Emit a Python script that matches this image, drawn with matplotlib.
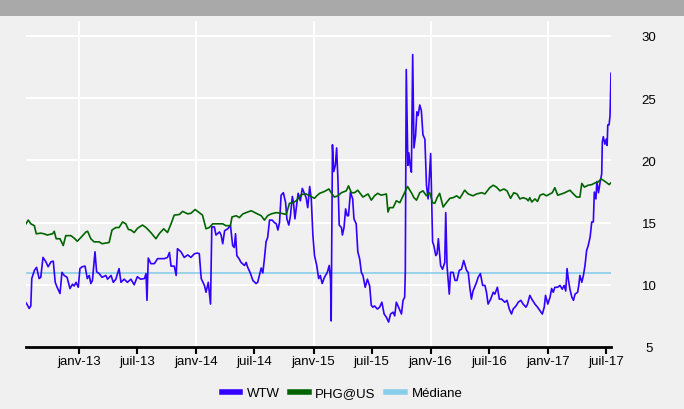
import pandas as pd
import numpy as np
import matplotlib.pyplot as plt
from matplotlib.patches import Rectangle

plt.rcParams['font.family'] = ['Liberation Sans', 'DejaVu Sans']

# WTW
wtw_dates = ['2012-07-19', '2012-07-25', '2012-07-29', '2012-08-03', '2012-08-06', '2012-08-14', '2012-08-21',
             '2012-08-29', '2012-09-03', '2012-09-10', '2012-09-19', '2012-09-26', '2012-10-05', '2012-10-12',
             '2012-10-18', '2012-10-24', '2012-11-02', '2012-11-08', '2012-11-15', '2012-11-24', '2012-12-03',
             '2012-12-11', '2012-12-16', '2012-12-22', '2012-12-29', '2013-01-03', '2013-01-10', '2013-01-19',
             '2013-01-26', '2013-02-01', '2013-02-06', '2013-02-11', '2013-02-19', '2013-02-24', '2013-03-04',
             '2013-03-13', '2013-03-25', '2013-03-30', '2013-04-10', '2013-04-17', '2013-04-25', '2013-05-05',
             '2013-05-11', '2013-05-21', '2013-05-31', '2013-06-11', '2013-06-21', '2013-07-01', '2013-07-11',
             '2013-07-23', '2013-07-28', '2013-07-31', '2013-08-04', '2013-08-12', '2013-08-23', '2013-09-02',
             '2013-09-13', '2013-09-23', '2013-10-03', '2013-10-09', '2013-10-14', '2013-10-24', '2013-10-30',
             '2013-11-03', '2013-11-14', '2013-11-24', '2013-12-05', '2013-12-15', '2013-12-26', '2014-01-05',
             '2014-01-10', '2014-01-16', '2014-01-26', '2014-01-31', '2014-02-07', '2014-02-14', '2014-02-18',
             '2014-02-26', '2014-03-03', '2014-03-14', '2014-03-19', '2014-03-24', '2014-03-30', '2014-04-09',
             '2014-04-17', '2014-04-24', '2014-04-29', '2014-05-03', '2014-05-07', '2014-05-15', '2014-05-20',
             '2014-05-31', '2014-06-05', '2014-06-10', '2014-06-18', '2014-06-26', '2014-07-06', '2014-07-11',
             '2014-07-22', '2014-07-27', '2014-08-01', '2014-08-06', '2014-08-11', '2014-08-17', '2014-08-25',
             '2014-09-01', '2014-09-07', '2014-09-12', '2014-09-17', '2014-09-22', '2014-09-29', '2014-10-06',
             '2014-10-10', '2014-10-16', '2014-10-21', '2014-10-27', '2014-10-31', '2014-11-04', '2014-11-10',
             '2014-11-14', '2014-11-21', '2014-11-27', '2014-12-04', '2014-12-09', '2014-12-14', '2014-12-20',
             '2014-12-25', '2014-12-30', '2015-01-04', '2015-01-11', '2015-01-17', '2015-01-22', '2015-01-28',
             '2015-02-04', '2015-02-13', '2015-02-19', '2015-02-23', '2015-02-25', '2015-03-01', '2015-03-05',
             '2015-03-10', '2015-03-14', '2015-03-18', '2015-03-22', '2015-03-29', '2015-04-01', '2015-04-06',
             '2015-04-11', '2015-04-16', '2015-04-20', '2015-04-26', '2015-05-03', '2015-05-07', '2015-05-14',
             '2015-05-19', '2015-05-25', '2015-05-30', '2015-06-04', '2015-06-11', '2015-06-18', '2015-06-25',
             '2015-06-30', '2015-07-05', '2015-07-10', '2015-07-19', '2015-07-26', '2015-08-02', '2015-08-09',
             '2015-08-16', '2015-08-23', '2015-08-29', '2015-09-06', '2015-09-11', '2015-09-16', '2015-09-23',
             '2015-10-02', '2015-10-07', '2015-10-12', '2015-10-14', '2015-10-17', '2015-10-22', '2015-10-25',
             '2015-10-29', '2015-11-02', '2015-11-06', '2015-11-10', '2015-11-15', '2015-11-19', '2015-11-23',
             '2015-11-28', '2015-12-03', '2015-12-08', '2015-12-14', '2015-12-19', '2015-12-24', '2016-01-01',
             '2016-01-07', '2016-01-11', '2016-01-17', '2016-01-21', '2016-01-25', '2016-02-01', '2016-02-07',
             '2016-02-14', '2016-02-17', '2016-02-21', '2016-02-28', '2016-03-03', '2016-03-11', '2016-03-17',
             '2016-03-23', '2016-03-30', '2016-04-06', '2016-04-13', '2016-04-22', '2016-04-27', '2016-05-02',
             '2016-05-07', '2016-05-12', '2016-05-23', '2016-05-28', '2016-06-04', '2016-06-11', '2016-06-18',
             '2016-06-23', '2016-06-28', '2016-07-06', '2016-07-14', '2016-07-19', '2016-07-27', '2016-08-02',
             '2016-08-09', '2016-08-19', '2016-08-26', '2016-09-02', '2016-09-09', '2016-09-14', '2016-09-23',
             '2016-09-30', '2016-10-08', '2016-10-15', '2016-10-24', '2016-10-29', '2016-11-05', '2016-11-11',
             '2016-11-21', '2016-11-29', '2016-12-07', '2016-12-14', '2016-12-20', '2016-12-24', '2016-12-31',
             '2017-01-07', '2017-01-12', '2017-01-17', '2017-01-22', '2017-01-31', '2017-02-07', '2017-02-14',
             '2017-02-20', '2017-02-25', '2017-03-01', '2017-03-05', '2017-03-10', '2017-03-16', '2017-03-21',
             '2017-03-26', '2017-04-03', '2017-04-07', '2017-04-10', '2017-04-16', '2017-04-21', '2017-04-26',
             '2017-05-01', '2017-05-06', '2017-05-12', '2017-05-17', '2017-05-22', '2017-05-25', '2017-05-30',
             '2017-06-02', '2017-06-07', '2017-06-12', '2017-06-17', '2017-06-19', '2017-06-22', '2017-06-27',
             '2017-07-01', '2017-07-04', '2017-07-06', '2017-07-10', '2017-07-13', '2017-07-16']
wtw = [8.55, 8.3, 8.1, 8.3, 10.5, 11.15, 11.4,
       10.5, 10.6, 12.2, 11.85, 11.45, 11.85, 11.9,
       10.2, 9.8, 9.3, 11.0, 10.75, 10.6, 9.7,
       10.05, 9.9, 10.2, 9.8, 11.3, 11.45, 11.5,
       10.5, 10.75, 10.1, 10.35, 12.65, 11.05, 10.9,
       10.6, 10.75, 10.45, 10.75, 10.2, 10.45, 11.3,
       10.2, 10.45, 10.2, 10.45, 10.0, 10.65, 10.45,
       10.5, 10.9, 8.75, 12.15, 11.7, 11.7, 12.1,
       12.1, 12.1, 12.2, 12.6, 11.5, 11.5, 10.75,
       12.9, 12.65, 12.2, 12.4, 12.2, 12.5, 12.55,
       12.5, 10.5, 9.95, 9.4, 10.2, 8.45, 14.65,
       14.65, 14.0, 14.25, 14.0, 13.3, 14.35, 14.5,
       14.8, 13.15, 13.0, 14.1, 12.35, 12.05, 11.8,
       11.55, 11.8, 11.4, 10.95, 10.35, 10.1, 10.2,
       11.35, 10.95, 12.1, 13.45, 13.8, 15.2, 15.2,
       15.0, 14.9, 14.4, 15.0, 17.2, 17.4, 16.6,
       15.3, 14.8, 15.55, 17.1, 16.5, 15.3, 16.5,
       17.35, 16.75, 17.75, 17.3, 17.0, 16.2, 17.9,
       16.9, 14.0, 12.35, 11.55, 10.5, 10.75, 10.1,
       10.6, 11.0, 11.55, 10.45, 7.1, 21.25, 19.1,
       19.6, 21.0, 18.5, 14.8, 14.6, 14.0, 14.6,
       16.1, 15.55, 15.55, 17.45, 16.9, 15.3, 14.9,
       12.65, 12.05, 11.0, 10.75, 9.8, 10.45, 9.9,
       8.35, 8.2, 8.3, 8.05, 8.2, 8.6, 7.65,
       7.4, 7.0, 7.65, 7.8, 7.5, 8.6, 8.2,
       7.65, 8.75, 9.0, 11.0, 27.3, 19.6, 20.6,
       19.6, 19.05, 28.5, 21.0, 22.0, 23.9, 23.6,
       24.45, 24.0, 22.05, 21.7, 18.0, 16.9, 20.55,
       13.45, 13.15, 12.35, 12.5, 13.7, 11.55, 11.25,
       11.8, 15.8, 11.55, 9.25, 11.0, 11.0, 10.35,
       10.35, 11.15, 11.25, 11.95, 11.15, 11.0, 9.8,
       8.85, 9.5, 10.2, 10.6, 10.9, 9.95, 9.95,
       9.4, 8.45, 8.85, 9.4, 9.25, 9.8, 8.85,
       8.85, 8.6, 8.75, 8.05, 7.65, 8.05, 8.3,
       8.6, 8.75, 8.45, 8.2, 8.45, 9.15, 8.85,
       8.45, 8.2, 7.9, 7.65, 8.2, 9.15, 8.45,
       9.0, 9.7, 9.4, 9.8, 9.8, 9.95, 9.65,
       9.95, 9.5, 11.3, 10.45, 9.65, 9.0, 8.75,
       9.25, 9.4, 10.05, 10.75, 10.2, 10.75, 11.55,
       12.75, 13.15, 13.85, 15.05, 15.05, 17.45, 16.9,
       18.3, 17.4, 18.25, 18.9, 21.5, 21.9, 21.3,
       21.7, 21.2, 22.85, 22.85, 23.6, 27.0]

# PHG@US
phg_dates = ['2012-07-19', '2012-07-26', '2012-08-03', '2012-08-14', '2012-08-20', '2012-09-03', '2012-09-13',
             '2012-09-23', '2012-10-10', '2012-10-15', '2012-10-21', '2012-11-02', '2012-11-12', '2012-11-20',
             '2012-12-06', '2012-12-16', '2012-12-26', '2013-01-06', '2013-01-22', '2013-01-27', '2013-02-06',
             '2013-02-16', '2013-03-04', '2013-03-13', '2013-03-25', '2013-04-04', '2013-04-13', '2013-04-25',
             '2013-05-05', '2013-05-16', '2013-05-26', '2013-06-03', '2013-06-11', '2013-06-21', '2013-07-02',
             '2013-07-17', '2013-07-28', '2013-08-12', '2013-08-28', '2013-09-07', '2013-09-21', '2013-10-03',
             '2013-10-14', '2013-10-24', '2013-11-09', '2013-11-19', '2013-12-05', '2013-12-15', '2013-12-28',
             '2014-01-10', '2014-01-20', '2014-01-31', '2014-02-10', '2014-02-21', '2014-03-08', '2014-03-24',
             '2014-04-03', '2014-04-17', '2014-04-22', '2014-05-05', '2014-05-15', '2014-05-26', '2014-06-10',
             '2014-06-21', '2014-07-06', '2014-07-22', '2014-08-01', '2014-08-11', '2014-08-22', '2014-09-07',
             '2014-09-22', '2014-10-08', '2014-10-18', '2014-10-29', '2014-11-08', '2014-11-24', '2014-12-09',
             '2014-12-20', '2015-01-04', '2015-01-11', '2015-01-20', '2015-02-04', '2015-02-18', '2015-02-25',
             '2015-03-07', '2015-03-18', '2015-03-29', '2015-04-13', '2015-04-20', '2015-04-29', '2015-05-09',
             '2015-05-19', '2015-06-04', '2015-06-20', '2015-06-30', '2015-07-10', '2015-07-20', '2015-07-31',
             '2015-08-16', '2015-08-21', '2015-08-26', '2015-09-06', '2015-09-16', '2015-09-27', '2015-10-07',
             '2015-10-21', '2015-11-02', '2015-11-10', '2015-11-18', '2015-11-28', '2015-12-08', '2015-12-19',
             '2015-12-29', '2016-01-07', '2016-01-14', '2016-01-21', '2016-01-29', '2016-02-09', '2016-02-19',
             '2016-03-01', '2016-03-11', '2016-03-22', '2016-04-01', '2016-04-16', '2016-04-27', '2016-05-12',
             '2016-05-23', '2016-06-08', '2016-06-18', '2016-07-03', '2016-07-14', '2016-07-24', '2016-08-04',
             '2016-08-16', '2016-08-26', '2016-09-06', '2016-09-16', '2016-09-26', '2016-10-05', '2016-10-15',
             '2016-10-26', '2016-10-31', '2016-11-05', '2016-11-11', '2016-11-21', '2016-11-29', '2016-12-07',
             '2016-12-17', '2016-12-27', '2017-01-07', '2017-01-14', '2017-01-22', '2017-01-31', '2017-02-12',
             '2017-02-22', '2017-03-10', '2017-03-21', '2017-03-31', '2017-04-10', '2017-04-16', '2017-04-24',
             '2017-05-06', '2017-05-17', '2017-05-28', '2017-06-05', '2017-06-15', '2017-06-22', '2017-07-03',
             '2017-07-10', '2017-07-16']
phg = [14.9, 15.2, 14.9, 14.75, 14.1, 14.15, 14.1,
       14.0, 14.1, 14.3, 13.7, 13.7, 13.15, 13.95,
       13.95, 13.75, 13.5, 13.8, 14.25, 14.3, 13.7,
       13.45, 13.45, 13.3, 13.35, 13.4, 14.4, 14.6,
       14.6, 15.05, 14.9, 14.45, 14.4, 14.2, 14.55,
       14.8, 14.6, 14.2, 13.7, 14.1, 14.5, 14.2,
       14.9, 15.6, 15.65, 15.9, 15.7, 15.75, 16.05,
       15.8, 15.6, 14.5, 14.6, 14.9, 14.9, 14.9,
       14.75, 14.75, 15.45, 15.55, 15.4, 15.7, 15.85,
       15.95, 15.75, 15.55, 15.2, 15.55, 15.7, 15.8,
       15.75, 15.65, 16.55, 16.6, 16.75, 17.25, 17.3,
       17.15, 16.95, 17.15, 17.35, 17.5, 17.7, 17.4,
       17.05, 17.15, 17.4, 17.55, 17.95, 17.4, 17.4,
       17.6, 17.05, 17.3, 16.8, 17.15, 17.35, 17.2,
       17.3, 15.85, 16.2, 16.2, 16.75, 16.6, 17.15,
       17.9, 17.4, 17.0, 16.8, 17.4, 17.55, 17.15,
       17.4, 16.6, 16.55, 17.0, 17.35, 16.25, 16.6,
       16.95, 17.0, 17.15, 16.95, 17.6, 17.3, 17.15,
       17.3, 17.4, 17.3, 17.8, 18.0, 17.85, 17.55,
       17.7, 17.55, 16.95, 17.4, 17.3, 16.9, 17.0,
       16.9, 16.75, 17.0, 16.65, 16.9, 16.7, 17.2,
       17.3, 17.15, 17.3, 17.4, 17.8, 17.2, 17.3,
       17.4, 17.6, 17.3, 17.05, 17.05, 18.15, 17.85,
       18.0, 18.05, 18.2, 18.25, 18.5, 18.4, 18.2,
       18.05, 18.2]

mediane = 10.95

tick_dates = ['2013-01-01', '2013-07-01', '2014-01-01', '2014-07-01', '2015-01-01',
              '2015-07-01', '2016-01-01', '2016-07-01', '2017-01-01', '2017-07-01']
tick_labels = ['janv-13', 'juil-13', 'janv-14', 'juil-14', 'janv-15',
               'juil-15', 'janv-16', 'juil-16', 'janv-17', 'juil-17']
y_ticks = [5, 10, 15, 20, 25, 30]

wd = pd.to_datetime(wtw_dates)
pdt = pd.to_datetime(phg_dates)
ticks = pd.to_datetime(tick_dates)

bg = '#f0f0f0'
fig = plt.figure(figsize=(6.84, 4.10), dpi=100, facecolor=bg)
fig.patches.append(Rectangle((0, 1 - 16.5 / 410), 1, 16.5 / 410, transform=fig.transFigure,
                             facecolor='#a9a9a9', edgecolor='none', zorder=0))
ax = fig.add_axes([26 / 684, 1 - 348 / 410, 585 / 684, 326 / 410])
ax.set_facecolor(bg)

ax.plot(wd, wtw, color='#3300ff', lw=1.2, label='WTW', zorder=3)
ax.plot(pdt, phg, color='#006400', lw=1.2, label='PHG@US', zorder=3)
ax.plot([wd[0], wd[-1]], [mediane, mediane], color='#87ceeb', lw=1.2, label='Médiane', zorder=2)

ax.set_xlim(wd[0], wd[-1])
ax.set_ylim(5, 31.2)

# quadrillage blanc
for y in y_ticks[1:]:
    ax.axhline(y, color='white', lw=1.5, zorder=1)
for t in ticks[::2]:
    ax.axvline(t, color='white', lw=1.5, zorder=1)

for s in ['top', 'left', 'right']:
    ax.spines[s].set_visible(False)
ax.spines['bottom'].set_linewidth(2)
ax.spines['bottom'].set_color('black')

ax.set_xticks(ticks)
ax.set_xticklabels(tick_labels, fontsize=9.5)
ax.tick_params(axis='x', length=5, width=1.5, color='black', pad=0.5)

ax.yaxis.tick_right()
ax.set_yticks(y_ticks)
ax.set_yticklabels([str(v) for v in y_ticks], fontsize=9.5, ha='center')
ax.tick_params(axis='y', length=0, pad=27.4)

leg = fig.legend(loc='center', bbox_to_anchor=(0.5, 1 - 394 / 410), ncol=3, frameon=False,
                 fontsize=9.5, handlelength=1.4, columnspacing=0.8, handletextpad=0.5)
for h in leg.get_lines():
    h.set_linewidth(4)

plt.savefig('out.png', dpi=100, facecolor=bg)
